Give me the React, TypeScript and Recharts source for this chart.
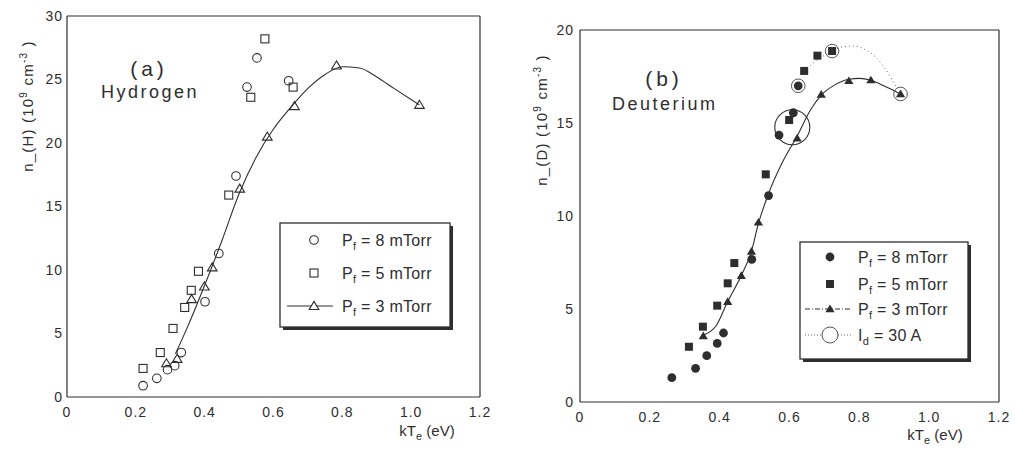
import React from "react";
import { ComposedChart, Scatter, Line, XAxis, YAxis } from "recharts";

type Pt = [number, number];

// shared axes
const xTicks = [0, 0.2, 0.4, 0.6, 0.8, 1.0, 1.2];
const hTicks = [0, 5, 10, 15, 20, 25, 30];
const dTicks = [0, 5, 10, 15, 20];

// (a) Hydrogen, kTe (eV) vs n_(H)
const h8: Pt[] = [
  [0.221, 0.89], [0.261, 1.47], [0.292, 2.15], [0.313, 2.47], [0.332, 3.5],
  [0.401, 7.5], [0.441, 11.3], [0.491, 17.4], [0.523, 24.4], [0.552, 26.7], [0.644, 24.9],
];
const h5: Pt[] = [
  [0.221, 2.25], [0.271, 3.5], [0.308, 5.4], [0.342, 7.05], [0.361, 8.4],
  [0.382, 9.9], [0.47, 15.9], [0.534, 23.6], [0.575, 28.2], [0.657, 24.4],
];
const h3: Pt[] = [
  [0.289, 2.65], [0.32, 3.0], [0.362, 7.7], [0.399, 8.7], [0.422, 10.2],
  [0.502, 16.4], [0.582, 20.5], [0.661, 22.9], [0.783, 26.1], [1.024, 23.0],
];
const h3Fit: Pt[] = [
  [0.315, 3.4], [0.35, 5.5], [0.4, 8.8], [0.45, 12.3], [0.5, 16.0], [0.55, 18.9],
  [0.6, 21.1], [0.65, 22.8], [0.7, 24.3], [0.75, 25.4], [0.8, 26.0], [0.85, 25.9],
  [0.9, 25.2], [0.95, 24.3], [1.024, 23.0],
];

// (b) Deuterium
const d8: Pt[] = [
  [0.263, 1.31], [0.331, 1.81], [0.363, 2.49], [0.393, 3.15], [0.411, 3.71],
  [0.492, 7.67], [0.54, 11.1], [0.57, 14.35], [0.611, 15.55], [0.625, 17.0],
];
const d5: Pt[] = [
  [0.312, 2.97], [0.352, 4.05], [0.393, 5.18], [0.423, 6.38], [0.442, 7.47],
  [0.532, 12.24], [0.599, 15.16], [0.642, 17.8], [0.68, 18.62], [0.722, 18.87],
];
const d3: Pt[] = [
  [0.353, 3.55], [0.423, 5.39], [0.462, 6.79], [0.491, 8.1], [0.511, 9.66],
  [0.622, 14.18], [0.691, 16.54], [0.77, 17.27], [0.833, 17.31], [0.918, 16.56],
];
const d3Fit: Pt[] = [
  [0.353, 3.6], [0.39, 4.1], [0.423, 5.4], [0.462, 6.8], [0.491, 8.1], [0.511, 9.6],
  [0.54, 11.2], [0.58, 12.9], [0.622, 14.3], [0.66, 15.7], [0.691, 16.5], [0.73, 17.05],
  [0.77, 17.35], [0.8, 17.4], [0.833, 17.3], [0.87, 17.0], [0.918, 16.56],
];
const dId30: Pt[] = [[0.625, 17.0], [0.722, 18.87], [0.918, 16.56]];
const dId30Fit: Pt[] = [
  [0.642, 17.8], [0.687, 18.48], [0.722, 18.87], [0.754, 19.1], [0.783, 19.14],
  [0.811, 19.0], [0.85, 18.48], [0.883, 17.67], [0.907, 16.87],
];
const dGroup: Pt[] = [[0.608, 14.77]];

const pts = (a: Pt[]) => a.map(([x, y]) => ({ x, y }));

const ink = "#2e2e2e";
const axisStyle = { stroke: ink, strokeWidth: 1.2 };
const font = "'Liberation Sans', Arial, sans-serif";
const fmtX = (v: number) => (v === 0 ? "0" : v.toFixed(1));

const tri = (cx: number, cy: number, s: number) =>
  `${cx},${cy - s} ${cx - s * 1.05},${cy + s * 0.75} ${cx + s * 1.05},${cy + s * 0.75}`;

const OpenCircle = (p: any) => (
  <circle cx={p.cx} cy={p.cy} r={4.3} fill="none" stroke={ink} strokeWidth={1.1} />
);
const OpenSquare = (p: any) => (
  <rect x={p.cx - 4} y={p.cy - 4} width={8} height={8} fill="none" stroke={ink} strokeWidth={1.1} />
);
const OpenTri = (p: any) => (
  <polygon points={tri(p.cx, p.cy, 4.6)} fill="none" stroke={ink} strokeWidth={1.1} />
);
const DotCircle = (p: any) => <circle cx={p.cx} cy={p.cy} r={4.4} fill={ink} />;
const DotSquare = (p: any) => (
  <rect x={p.cx - 4} y={p.cy - 4} width={8} height={8} fill={ink} />
);
const DotTri = (p: any) => <polygon points={tri(p.cx, p.cy, 4.4)} fill={ink} />;
const Ring = (p: any) => (
  <circle cx={p.cx} cy={p.cy} r={6.8} fill="none" stroke="#555" strokeWidth={1} />
);
const BigRing = (p: any) => (
  <circle cx={p.cx} cy={p.cy} r={17.5} fill="none" stroke={ink} strokeWidth={1.1} />
);

// box axes with inward ticks on all four sides
function frame(yMax: number, yTicks: number[], yWidth: number, xHeight: number, yMargin: number) {
  return [
    <XAxis key="xb" type="number" dataKey="x" domain={[0, 1.2]} ticks={xTicks} allowDataOverflow
      height={xHeight} axisLine={axisStyle} tickLine={false} tickSize={0} tickMargin={10}
      tickFormatter={fmtX} tick={{ fontSize: 14, fill: ink, letterSpacing: 1 }} />,
    <XAxis key="xbi" xAxisId="bin" type="number" dataKey="x" domain={[0, 1.2]} ticks={xTicks}
      allowDataOverflow orientation="bottom" mirror tick={false} axisLine={false}
      tickLine={axisStyle} tickSize={6} />,
    <XAxis key="xt" xAxisId="top" type="number" dataKey="x" domain={[0, 1.2]} ticks={xTicks}
      allowDataOverflow orientation="top" mirror tick={false} axisLine={axisStyle}
      tickLine={axisStyle} tickSize={6} />,
    <YAxis key="yl" type="number" dataKey="y" domain={[0, yMax]} ticks={yTicks} allowDataOverflow
      width={yWidth} axisLine={axisStyle} tickLine={false} tickSize={0} tickMargin={yMargin}
      tick={{ fontSize: 14, fill: ink, letterSpacing: 1 }} />,
    <YAxis key="yli" yAxisId="lin" type="number" dataKey="y" domain={[0, yMax]} ticks={yTicks}
      allowDataOverflow orientation="left" mirror tick={false} axisLine={false}
      tickLine={axisStyle} tickSize={6} />,
    <YAxis key="yr" yAxisId="right" type="number" dataKey="y" domain={[0, yMax]} ticks={yTicks}
      allowDataOverflow orientation="right" mirror tick={false} axisLine={axisStyle}
      tickLine={axisStyle} tickSize={6} />,
  ];
}

const legendText = (x: number, y: number, sub: string, rest: string) => (
  <text x={x} y={y + 5.5} fontSize={16} fill={ink} letterSpacing={0.3}>
    {sub[0]}
    <tspan dy={4} fontSize={11}>{sub.slice(1)}</tspan>
    <tspan dy={-4}>{rest}</tspan>
  </text>
);

function Overlay() {
  return (
    <svg width={1015} height={452} style={{ position: "absolute", left: 0, top: 0, pointerEvents: "none" }}
      fontFamily={font}>
      {/* panel a texts */}
      <text x={149} y={76} textAnchor="middle" fontSize={21} letterSpacing={4} fill={ink}>(a)</text>
      <text x={101} y={98} fontSize={18} letterSpacing={2.5} fill={ink}>Hydrogen</text>
      <text transform="translate(33,106) rotate(-90)" textAnchor="middle" fontSize={15}
        letterSpacing={1.2} fill={ink}>
        n_(H)  (10<tspan dy={-6} fontSize={10}>9</tspan><tspan dy={6}> cm</tspan>
        <tspan dy={-6} fontSize={10}>-3</tspan><tspan dy={6}> )</tspan>
      </text>
      <text x={427} y={436} textAnchor="middle" fontSize={15} fill={ink}>
        kT<tspan dy={4} fontSize={11}>e</tspan><tspan dy={-4}> (eV)</tspan>
      </text>
      <rect x={283} y={226} width={170} height={104} fill={ink} />
      <rect x={280} y={223} width={170} height={104} fill="#fff" stroke={ink} strokeWidth={1.3} />
      <circle cx={314} cy={240} r={4.3} fill="none" stroke={ink} strokeWidth={1.1} />
      <rect x={310} y={269} width={8} height={8} fill="none" stroke={ink} strokeWidth={1.1} />
      <line x1={287} x2={333} y1={306} y2={306} stroke={ink} strokeWidth={1.1} />
      <polygon points={tri(314, 306, 4.6)} fill="#fff" stroke={ink} strokeWidth={1.1} />
      {legendText(342, 240, "Pf", " = 8 mTorr")}
      {legendText(342, 273, "Pf", " = 5 mTorr")}
      {legendText(342, 306, "Pf", " = 3 mTorr")}

      {/* panel b texts */}
      <text x={664} y={86} textAnchor="middle" fontSize={21} letterSpacing={4} fill={ink}>(b)</text>
      <text x={612} y={110} fontSize={18} letterSpacing={2.5} fill={ink}>Deuterium</text>
      <text transform="translate(547,120) rotate(-90)" textAnchor="middle" fontSize={15}
        letterSpacing={1.2} fill={ink}>
        n_(D)  (10<tspan dy={-6} fontSize={10}>9</tspan><tspan dy={6}> cm</tspan>
        <tspan dy={-6} fontSize={10}>-3</tspan><tspan dy={6}> )</tspan>
      </text>
      <text x={935} y={440} textAnchor="middle" fontSize={15} fill={ink}>
        kT<tspan dy={4} fontSize={11}>e</tspan><tspan dy={-4}> (eV)</tspan>
      </text>
      <rect x={803} y={245} width={168} height={117} fill={ink} />
      <rect x={800} y={242} width={168} height={117} fill="#fff" stroke={ink} strokeWidth={1.3} />
      <circle cx={830} cy={257} r={4.4} fill={ink} />
      <rect x={826} y={280} width={8} height={8} fill={ink} />
      <line x1={805} x2={852} y1={309} y2={309} stroke={ink} strokeWidth={1} strokeDasharray="5 2 1 2" />
      <polygon points={tri(830, 309, 4.4)} fill={ink} />
      <line x1={805} x2={852} y1={335} y2={335} stroke="#666" strokeWidth={1} strokeDasharray="1 2" />
      <circle cx={830} cy={335} r={8} fill="#fff" stroke="#555" strokeWidth={1} />
      {legendText(858, 257, "Pf", " = 8 mTorr")}
      {legendText(858, 284, "Pf", " = 5 mTorr")}
      {legendText(858, 309, "Pf", " = 3 mTorr")}
      {legendText(858, 335, "Id", " = 30 A")}
    </svg>
  );
}

export default function App() {
  return (
    <div style={{ position: "absolute", left: 0, top: 0, width: 1015, height: 452, background: "#fff", fontFamily: font }}>
      <div style={{ position: "absolute", left: 0, top: 0 }}>
        <ComposedChart width={500} height={452} margin={{ top: 16, right: 20, bottom: 0, left: 0 }}>
          {frame(30, hTicks, 67, 55, 4)}
          <Line data={pts(h3Fit)} dataKey="y" type="monotone" stroke={ink} strokeWidth={1.1}
            dot={false} activeDot={false} isAnimationActive={false} />
          <Scatter data={pts(h8)} shape={OpenCircle} isAnimationActive={false} />
          <Scatter data={pts(h5)} shape={OpenSquare} isAnimationActive={false} />
          <Scatter data={pts(h3)} shape={OpenTri} isAnimationActive={false} />
        </ComposedChart>
      </div>
      <div style={{ position: "absolute", left: 500, top: 0 }}>
        <ComposedChart width={515} height={452} margin={{ top: 30, right: 16, bottom: 0, left: 0 }}>
          {frame(20, dTicks, 80, 50, 6)}
          <Line data={pts(d3Fit)} dataKey="y" type="monotone" stroke={ink} strokeWidth={1.1}
            dot={false} activeDot={false} isAnimationActive={false} />
          <Line data={pts(dId30Fit)} dataKey="y" type="monotone" stroke="#666" strokeWidth={1}
            strokeDasharray="1 3" dot={false} activeDot={false} isAnimationActive={false} />
          <Scatter data={pts(d8)} shape={DotCircle} isAnimationActive={false} />
          <Scatter data={pts(d5)} shape={DotSquare} isAnimationActive={false} />
          <Scatter data={pts(d3)} shape={DotTri} isAnimationActive={false} />
          <Scatter data={pts(dId30)} shape={Ring} isAnimationActive={false} />
          <Scatter data={pts(dGroup)} shape={BigRing} isAnimationActive={false} />
        </ComposedChart>
      </div>
      <Overlay />
    </div>
  );
}
